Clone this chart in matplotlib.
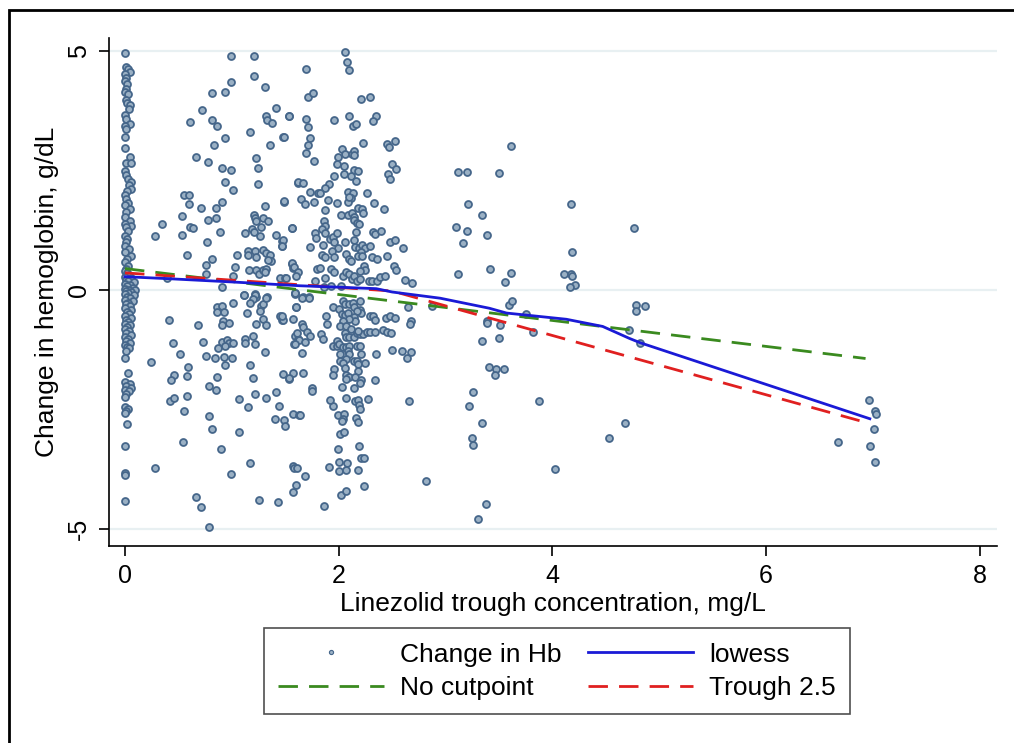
import matplotlib
matplotlib.use("Agg")
import matplotlib.pyplot as plt
from matplotlib.patches import Rectangle
from matplotlib.lines import Line2D

plt.rcParams['font.family'] = ['Liberation Sans', 'DejaVu Sans']
plt.rcParams['axes.unicode_minus'] = False

# points at trough ~0 (column on the left)
pts_zero = [
    (0.00, 4.96), (0.01, 4.67), (0.03, 4.62), (0.05, 4.56), (0.00, 4.51), (0.01, 4.44), (0.00, 4.37),
    (0.02, 4.31), (0.01, 4.20), (0.00, 4.14), (0.03, 4.09), (0.01, 3.97), (0.02, 3.91), (0.05, 3.86),
    (0.04, 3.79), (0.00, 3.67), (0.01, 3.58), (0.05, 3.47), (0.00, 3.42), (0.01, 3.36), (0.00, 3.19),
    (0.00, 2.96), (0.05, 2.79), (0.01, 2.66), (0.06, 2.66), (0.00, 2.48), (0.01, 2.41), (0.03, 2.33),
    (0.06, 2.26), (0.04, 2.19), (0.06, 2.12), (0.02, 2.08), (0.00, 1.98), (0.01, 1.91), (0.03, 1.82),
    (0.00, 1.77), (0.05, 1.70), (0.01, 1.63), (0.00, 1.52), (0.05, 1.45), (0.00, 1.38), (0.06, 1.34),
    (0.01, 1.31), (0.03, 1.24), (0.00, 1.14), (0.02, 1.07), (0.01, 1.00), (0.00, 0.93), (0.04, 0.86),
    (0.00, 0.79), (0.06, 0.72), (0.02, 0.65), (0.00, 0.58), (0.03, 0.51), (0.01, 0.45),
    (0.00, 0.40), (0.02, 0.36), (0.04, 0.32), (0.00, 0.28), (0.06, 0.25), (0.01, 0.22), (0.03, 0.19),
    (0.08, 0.16), (0.00, 0.13), (0.05, 0.10), (0.02, 0.08), (0.07, 0.05), (0.00, 0.03), (0.04, 0.01),
    (0.09, 0.00), (0.01, -0.02), (0.06, -0.04), (0.03, -0.06), (0.00, -0.09), (0.08, -0.11),
    (0.02, -0.14), (0.05, -0.17), (0.00, -0.20), (0.07, -0.23), (0.03, -0.26), (0.01, -0.30),
    (0.05, -0.34), (0.00, -0.38), (0.06, -0.42), (0.02, -0.46), (0.04, -0.50), (0.00, -0.55),
    (0.06, -0.58), (0.01, -0.62), (0.03, -0.66), (0.00, -0.70), (0.05, -0.74), (0.02, -0.78),
    (0.00, -0.82), (0.04, -0.86), (0.01, -0.90), (0.06, -0.94), (0.00, -0.98), (0.03, -1.02),
    (0.01, -1.06), (0.05, -1.10), (0.00, -1.14), (0.02, -1.18), (0.04, -1.22), (0.01, -1.27),
    (0.00, -1.43), (0.03, -1.73), (0.00, -1.92), (0.05, -1.96), (0.01, -2.00), (0.06, -2.04),
    (0.00, -2.08), (0.04, -2.12), (0.01, -2.18), (0.00, -2.24), (0.00, -2.45), (0.03, -2.48),
    (0.01, -2.53), (0.00, -2.56), (0.02, -2.80), (0.00, -3.26), (0.00, -3.82), (0.00, -3.86),
    (0.00, -4.40),
]

# points with trough 0.2 - 1.6
pts_low = [
    (0.99, 4.89), (1.21, 4.90), (1.21, 4.47), (0.99, 4.36), (0.81, 4.13), (0.94, 4.14), (1.31, 4.24),
    (0.72, 3.77), (1.41, 3.80), (0.61, 3.52), (0.81, 3.55), (0.86, 3.43), (1.32, 3.63), (1.33, 3.56),
    (1.38, 3.49), (1.53, 3.64), (1.17, 3.30), (0.94, 3.17), (1.48, 3.19), (0.83, 3.03), (1.36, 3.03),
    (0.66, 2.79), (0.78, 2.68), (1.23, 2.77), (1.24, 2.56), (0.91, 2.56), (0.99, 2.51), (0.94, 2.27),
    (1.24, 2.21), (1.01, 2.10), (1.62, 2.24), (0.55, 1.98), (0.60, 1.99), (0.60, 1.79), (0.71, 1.72),
    (0.85, 1.72), (0.91, 1.84), (1.31, 1.76), (1.49, 1.85), (0.53, 1.54), (0.78, 1.47), (0.85, 1.51),
    (1.21, 1.58), (1.22, 1.50), (1.23, 1.45), (1.29, 1.51), (1.34, 1.44), (0.35, 1.38), (0.61, 1.31),
    (0.64, 1.29), (0.28, 1.13), (0.53, 1.16), (0.89, 1.22), (1.12, 1.19), (1.19, 1.28), (1.21, 1.22),
    (1.27, 1.32), (1.26, 1.13), (1.41, 1.15), (1.56, 1.29), (1.47, 1.03), (1.47, 0.93), (0.77, 1.01),
    (0.58, 0.73), (0.81, 0.64), (0.76, 0.52), (1.05, 0.73), (1.15, 0.81), (1.15, 0.73), (1.22, 0.81),
    (1.23, 0.69), (1.29, 0.83), (1.32, 0.78), (1.36, 0.73), (1.37, 0.61), (1.34, 0.63), (1.03, 0.48),
    (1.16, 0.43), (1.23, 0.42), (1.25, 0.33), (1.29, 0.43), (1.32, 0.45), (1.31, 0.38), (1.56, 0.55),
    (1.57, 0.47), (0.76, 0.33), (1.45, 0.25), (1.50, 0.25), (1.01, 0.30), (0.91, 0.06), (1.59, -0.06),
    (1.11, -0.10), (1.22, -0.09), (1.23, -0.15), (1.33, -0.15), (0.39, 0.25),
    (0.41, -0.63), (0.68, -0.73), (0.86, -0.36), (0.91, -0.33), (0.86, -0.45), (0.93, -0.45),
    (1.01, -0.26), (1.11, -0.11), (1.22, -0.10), (1.20, -0.19), (1.17, -0.26), (1.14, -0.47),
    (1.27, -0.33), (1.29, -0.30), (1.32, -0.17), (1.26, -0.43), (0.92, -0.64), (0.97, -0.68),
    (0.91, -0.73), (1.23, -0.71), (1.29, -0.61), (1.32, -0.73), (1.45, -0.54), (1.47, -0.63),
    (1.57, -0.61), (1.60, -0.36), (1.59, -0.08), (0.45, -1.10), (0.73, -1.08), (0.91, -1.08),
    (0.95, -1.05), (0.97, -1.10), (1.01, -1.11), (0.94, -1.17), (1.12, -1.03), (1.12, -1.11),
    (1.20, -0.96), (1.22, -1.13), (1.59, -0.96), (1.62, -1.03), (1.58, -1.13), (1.31, -1.29),
    (0.87, -1.22), (0.51, -1.33), (0.76, -1.38), (0.84, -1.43), (0.93, -1.40), (1.00, -1.43),
    (0.94, -1.57), (0.24, -1.50), (1.17, -1.57), (0.59, -1.61), (0.46, -1.78), (0.43, -1.89),
    (0.58, -1.80), (0.86, -1.82), (1.20, -1.83), (1.48, -1.75), (1.53, -1.85), (1.57, -1.74),
    (0.79, -2.01), (0.85, -2.08), (1.22, -2.17), (1.41, -2.14), (0.42, -2.31), (0.46, -2.26),
    (0.58, -2.22), (1.07, -2.27), (1.32, -2.25), (1.15, -2.45), (1.44, -2.43), (0.55, -2.53),
    (1.57, -2.60), (1.63, -2.62), (0.79, -2.64), (1.40, -2.70), (1.49, -2.72), (1.50, -2.85),
    (0.81, -2.91), (1.07, -2.97), (0.54, -3.17), (0.90, -3.33), (1.17, -3.61), (1.57, -3.67),
    (1.58, -3.72), (1.61, -3.72), (0.28, -3.71), (0.99, -3.84), (1.60, -4.08), (1.57, -4.23),
    (0.66, -4.32), (0.71, -4.53), (1.25, -4.39), (1.43, -4.44), (0.79, -4.95),
]

# points with trough 1.5 - 2.9
pts_mid = [
    (2.06, 4.98), (2.08, 4.77), (2.10, 4.61), (1.69, 4.63), (1.71, 4.04), (1.76, 4.11), (2.21, 3.99),
    (2.29, 4.04), (1.53, 3.63), (1.69, 3.58), (1.71, 3.40), (1.96, 3.55), (2.10, 3.64), (2.13, 3.42),
    (2.16, 3.47), (2.35, 3.63), (2.32, 3.54), (1.49, 3.19), (1.73, 3.17), (1.71, 3.03), (1.69, 2.86),
    (1.77, 2.70), (2.03, 2.94), (1.99, 2.78), (2.06, 2.85), (2.12, 2.85), (2.14, 2.90), (2.14, 2.83),
    (2.23, 3.07), (2.45, 3.05), (2.47, 3.00), (2.53, 3.12), (1.98, 2.63), (2.05, 2.59), (2.50, 2.64),
    (2.54, 2.53), (2.46, 2.43), (2.48, 2.33), (2.14, 2.52), (2.18, 2.49), (2.11, 2.39), (2.05, 2.42),
    (2.16, 2.29), (1.96, 2.38), (1.91, 2.22), (1.87, 2.14), (1.62, 2.25), (1.67, 2.23), (1.49, 1.86),
    (1.73, 2.05), (1.81, 2.03), (1.82, 2.03), (1.65, 1.91), (1.68, 1.80), (1.77, 1.85), (1.90, 1.89),
    (1.87, 1.68), (2.09, 2.05), (2.13, 2.03), (2.11, 1.92), (2.09, 1.84), (2.10, 1.95), (1.98, 1.82),
    (2.26, 2.03), (2.33, 1.83), (2.42, 1.70), (2.18, 1.71), (2.22, 1.70), (2.23, 1.61), (2.02, 1.57),
    (2.09, 1.58), (2.12, 1.62), (2.14, 1.52), (2.14, 1.46), (2.17, 1.41), (2.19, 1.38), (1.86, 1.45),
    (1.87, 1.35), (1.84, 1.28), (1.56, 1.29), (1.48, 1.05), (1.47, 0.93), (1.78, 1.19), (1.79, 1.08),
    (1.87, 1.19), (1.92, 1.07), (1.95, 1.10), (1.96, 1.00), (1.98, 1.19), (1.99, 0.89), (1.94, 0.82),
    (1.73, 0.91), (1.85, 0.95), (1.84, 0.73), (1.87, 0.69), (1.96, 0.69), (2.06, 1.01), (2.14, 1.04),
    (2.16, 1.21), (2.15, 0.91), (2.19, 0.89), (2.22, 0.94), (2.25, 0.89), (2.29, 0.92), (2.21, 0.80),
    (2.07, 0.75), (2.10, 0.65), (2.11, 0.60), (2.18, 0.71), (2.22, 0.72), (2.32, 1.22), (2.34, 1.17),
    (2.40, 1.24), (2.48, 1.00), (2.53, 1.05), (2.60, 0.89), (2.31, 0.69), (2.36, 0.66), (2.45, 0.71),
    (1.56, 0.56), (1.58, 0.48), (1.62, 0.37), (1.60, 0.30), (1.51, 0.25), (1.78, 0.19), (1.80, 0.44),
    (1.82, 0.47), (1.87, 0.25), (1.93, 0.44), (1.96, 0.38), (2.04, 0.29), (2.07, 0.37), (2.10, 0.34),
    (2.12, 0.23), (2.14, 0.29), (2.17, 0.19), (2.20, 0.23), (2.24, 0.51), (2.25, 0.42), (2.20, 0.40),
    (2.28, 0.19), (2.31, 0.19), (2.36, 0.19), (2.39, 0.28), (2.43, 0.30), (2.52, 0.51), (2.54, 0.42),
    (2.62, 0.21), (2.69, 0.15), (1.86, 0.06), (1.93, 0.08), (2.02, 0.08), (1.67, -0.14), (1.72, -0.14),
    (1.59, -0.07), (1.66, -0.17), (1.72, -0.16), (1.60, -0.36), (1.48, -0.62), (1.47, -0.54),
    (1.66, -0.71), (1.67, -0.77), (1.61, -0.89), (1.70, -0.87), (1.73, -0.96), (1.63, -1.04),
    (1.68, -1.08), (1.59, -1.13), (1.66, -1.32), (1.83, -0.91), (1.85, -1.03), (1.88, -0.54),
    (1.89, -0.71), (1.95, -0.36), (2.04, -0.22), (2.06, -0.29), (2.10, -0.29), (2.13, -0.26),
    (2.14, -0.36), (2.20, -0.22), (2.20, -0.41), (2.21, -0.47), (2.17, -0.43), (2.00, -0.40),
    (2.03, -0.50), (2.06, -0.52), (2.09, -0.47), (2.14, -0.57), (2.15, -0.64), (2.10, -0.61),
    (2.04, -0.64), (2.01, -0.75), (2.07, -0.75), (2.11, -0.82), (2.06, -0.89), (2.07, -0.99),
    (2.10, -0.99), (2.14, -0.99), (1.98, -1.06), (1.95, -1.17), (1.98, -1.17), (2.00, -1.13),
    (2.04, -1.18), (2.07, -1.20), (2.10, -1.17), (2.17, -1.17), (2.20, -1.17), (2.09, -1.27),
    (2.10, -1.34), (2.01, -1.34), (2.21, -1.34), (2.07, -1.45), (2.01, -1.48), (2.14, -1.48),
    (2.17, -1.48), (2.18, -1.55), (2.25, -1.52), (2.04, -1.53), (2.06, -1.62), (1.96, -1.64),
    (2.18, -1.69), (1.95, -1.78), (2.07, -1.78), (2.10, -1.81), (2.15, -1.81), (2.21, -1.87),
    (2.20, -1.94), (2.14, -2.04), (2.03, -2.02), (2.07, -1.85), (2.17, -0.89), (2.20, -0.92),
    (2.23, -0.92), (2.26, -0.87), (2.29, -0.87), (2.34, -0.87), (2.18, -0.85), (2.29, -0.55),
    (2.32, -0.54), (2.34, -0.62), (2.44, -0.59), (2.48, -0.54), (2.53, -0.59), (2.41, -0.83),
    (2.45, -0.87), (2.49, -0.90), (2.65, -0.36), (2.68, -0.64), (2.67, -0.70), (2.35, -1.34),
    (2.50, -1.25), (2.59, -1.27), (2.68, -1.29), (2.64, -1.43), (2.34, -1.88), (2.27, -2.27),
    (2.15, -2.32), (2.18, -2.29), (2.19, -2.41), (2.20, -2.49), (2.07, -2.25), (1.95, -2.42),
    (1.92, -2.30), (1.99, -2.61), (2.05, -2.59), (2.04, -2.69), (2.03, -2.74), (2.16, -2.67),
    (2.18, -2.75), (2.66, -2.31), (1.75, -2.04), (1.75, -2.11), (1.53, -1.84), (1.67, -1.73),
    (1.64, -2.61), (2.01, -3.00), (2.05, -2.97), (1.99, -3.32), (2.19, -3.25), (2.21, -3.51),
    (2.24, -3.51), (1.68, -3.89), (1.91, -3.70), (2.00, -3.60), (2.08, -3.61), (2.00, -3.79),
    (2.07, -3.76), (2.18, -3.77), (2.02, -4.29), (2.07, -4.19), (2.24, -4.10), (1.86, -4.52),
    (2.82, -3.99),
]

# points with trough above 2.8
pts_high = [
    (3.61, 3.01), (3.12, 2.47), (3.20, 2.47), (3.50, 2.45), (3.21, 1.80), (3.34, 1.58), (3.10, 1.31),
    (3.20, 1.24), (3.39, 1.16), (3.16, 0.98), (4.17, 1.79), (4.76, 1.29), (4.18, 0.79), (3.42, 0.45),
    (3.12, 0.33), (3.61, 0.35), (3.56, 0.16), (4.11, 0.33), (4.17, 0.34), (4.18, 0.29), (4.21, 0.10),
    (4.16, 0.06), (2.87, -0.33), (3.59, -0.31), (3.62, -0.23), (3.39, -0.64), (3.39, -0.69),
    (3.51, -0.73), (3.75, -0.50), (3.82, -0.87), (3.34, -1.07), (3.50, -1.01), (4.78, -0.31),
    (4.78, -0.43), (4.87, -0.33), (4.72, -0.83), (4.82, -1.10), (3.41, -1.61), (3.47, -1.64),
    (3.55, -1.66), (3.46, -1.78), (3.26, -2.13), (3.22, -2.42), (3.87, -2.32), (3.34, -2.77),
    (3.25, -3.09), (3.26, -3.24), (4.53, -3.09), (4.68, -2.78), (4.02, -3.75), (3.38, -4.47),
    (3.30, -4.79), (6.96, -2.30), (7.02, -2.52), (7.03, -2.59), (7.01, -2.91), (6.67, -3.18),
    (6.97, -3.26), (7.02, -3.60),
]

# fitted lines
lowess_x = [0.0, 0.39, 1.0, 1.64, 2.0, 2.35, 2.5, 2.95, 3.41, 3.57, 4.13, 4.47, 4.72, 4.82, 6.97]
lowess_y = [0.28, 0.24, 0.17, 0.09, 0.06, 0.03, -0.04, -0.17, -0.38, -0.48, -0.61, -0.76, -1.01, -1.10, -2.69]
nocut_x = [0.0, 6.93]
nocut_y = [0.45, -1.43]
trough_x = [0.0, 2.5, 6.97]
trough_y = [0.36, -0.02, -2.79]

xticks = [0, 2, 4, 6, 8]
yticks = [-5, 0, 5]

pts = pts_zero + pts_low + pts_mid + pts_high
px = [p[0] for p in pts]
py = [p[1] for p in pts]

fig = plt.figure(figsize=(10.14, 7.43), dpi=100)
ax = fig.add_axes([109 / 1014, 1 - 546 / 743, (997 - 109) / 1014, (546 - 38) / 743])

for yt in yticks:
    ax.axhline(yt, color='#e8f0f2', lw=1.6, zorder=0)

sc, = ax.plot(px, py, 'o', ms=5.0, mfc='#9ab0c4', mec='#45668a', mew=1.3,
              linestyle='none', label='Change in Hb', zorder=2)
lw_, = ax.plot(lowess_x, lowess_y, color='#1a1ad6', lw=2.0, label='lowess', zorder=4)
nc, = ax.plot(nocut_x, nocut_y, color='#3a8a1f', lw=2.0, dashes=(7, 4), label='No cutpoint', zorder=3)
tr, = ax.plot(trough_x, trough_y, color='#e02020', lw=2.0, dashes=(7, 4), label='Trough 2.5', zorder=3)

ax.set_xlim(-0.15, 8.16)
ax.set_ylim(-5.35, 5.27)
ax.set_xticks(xticks)
ax.set_yticks(yticks)
ax.set_yticklabels([str(t) for t in yticks], rotation=90, va='center')
ax.tick_params(labelsize=18, length=7, width=1.2, direction='out', pad=6)
for s in ['top', 'right']:
    ax.spines[s].set_visible(False)
for s in ['left', 'bottom']:
    ax.spines[s].set_linewidth(1.2)

ax.set_xlabel('Linezolid trough concentration, mg/L', fontsize=19, labelpad=3)
ax.set_ylabel('Change in hemoglobin, g/dL', fontsize=19, labelpad=6)

small = Line2D([], [], marker='o', ms=3, mfc='#9ab0c4', mec='#45668a', mew=0.8, linestyle='none')
leg = fig.legend([small, nc, lw_, tr], ['Change in Hb', 'No cutpoint', 'lowess', 'Trough 2.5'],
                 ncol=2, loc='upper center', bbox_to_anchor=(557 / 1014, 1 - 628 / 743),
                 borderaxespad=0, fontsize=19, frameon=True, fancybox=False, handlelength=4.0,
                 columnspacing=1.0, handletextpad=0.6, borderpad=0.55, labelspacing=0.35)
leg.get_frame().set_edgecolor('#222222')
leg.get_frame().set_linewidth(1.2)

# outer frame
fig.patches.append(Rectangle((9 / 1014, -0.2), 1.2, 1.2 - 10 / 743, transform=fig.transFigure,
                             fill=False, edgecolor='black', lw=2))

fig.savefig('out.png', dpi=100)
